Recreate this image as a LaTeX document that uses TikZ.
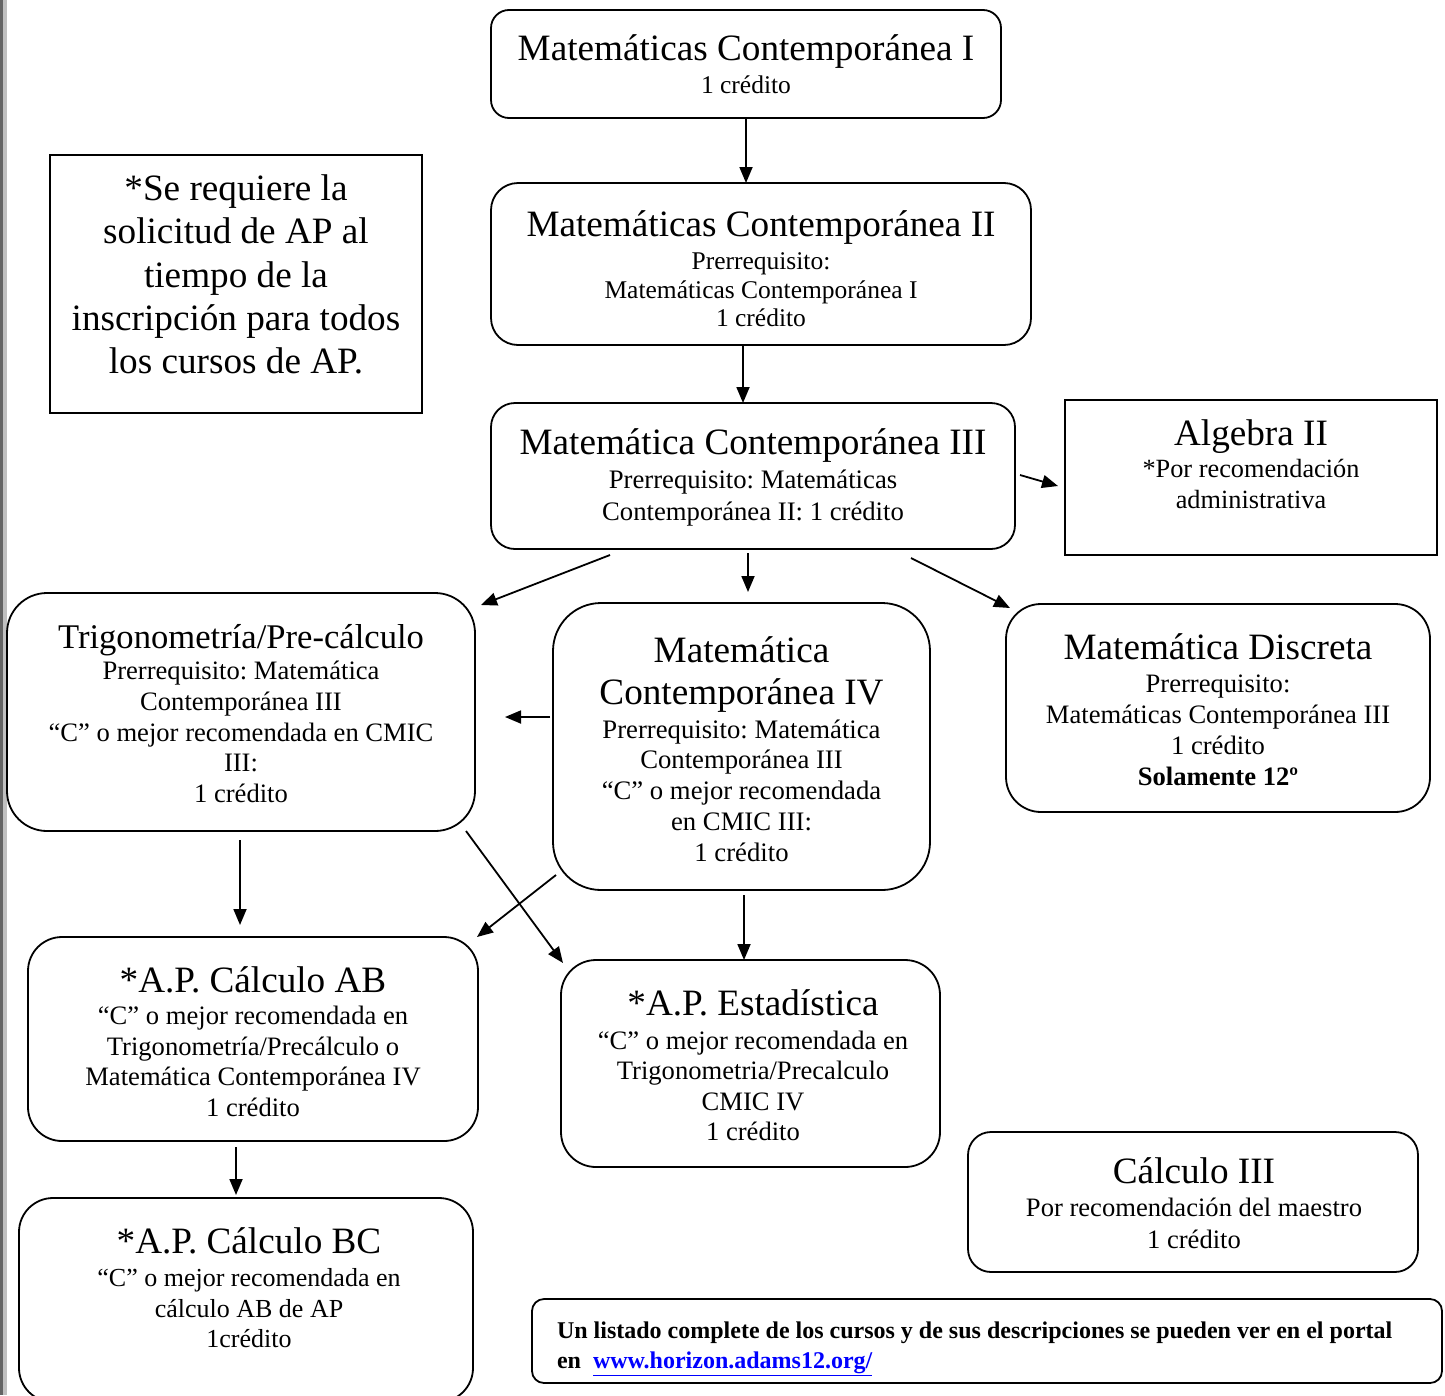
\documentclass[tikz,border=0pt]{standalone}
\usepackage{fontspec}
\setmainfont{Liberation Serif}
\usetikzlibrary{arrows.meta,calc}
\definecolor{bardark}{RGB}{100,100,100}
\definecolor{barlight}{RGB}{192,192,192}
\definecolor{linkblue}{RGB}{0,0,255}
\newcommand\Tsz{\fontsize{37.2}{42}\selectfont}
\frenchspacing
\begin{document}
\frenchspacing
\begin{tikzpicture}[x=1pt,y=-1pt,
 box/.style={draw=black, line width=1.8pt, inner sep=0pt, outer sep=0pt},
 txt/.style={inner sep=0pt, outer sep=0pt, align=center, anchor=north, yshift=-2pt},
 arr/.style={line width=1.8pt, -{Triangle[length=16pt,width=13pt]}}]
\useasboundingbox (0,0) rectangle (1445,1395);
\fill[white] (0,0) rectangle (1445,1395);
\fill[bardark] (0,0) rectangle (3,1395);
\fill[barlight] (3,0) rectangle (7,1395);

% boxes
\node[box, rounded corners=18pt, minimum width=510pt, minimum height=108pt] (mc1) at (746,64) {};
\node[txt, font=\fontsize{25.5}{28.5}\selectfont] (mc1t) at (746,28) {{\Tsz\rule{0pt}{30pt}Matemáticas Contemporánea I}\\[5pt] 1 crédito};

\node[box, rounded corners=27pt, minimum width=540pt, minimum height=162pt] (mc2) at (761,264) {};
\node[txt, font=\fontsize{25.5}{28.5}\selectfont] (mc2t) at (761,204) {{\Tsz\rule{0pt}{30pt}Matemáticas Contemporánea II}\\[5pt] Prerrequisito:\\ Matemáticas Contemporánea I\\ 1 crédito};

\node[box, minimum width=372pt, minimum height=258pt] (note) at (236,284) {};
\node[txt, font=\fontsize{37.2}{43.25}\selectfont] (notet) at (236,168.5) {\rule{0pt}{30pt}*Se requiere la\\ solicitud de AP al\\ tiempo de la\\ inscripción para todos\\ los cursos de AP.};

\node[box, rounded corners=24pt, minimum width=524pt, minimum height=146pt] (mc3) at (753,476) {};
\node[txt, font=\fontsize{26.7}{32}\selectfont] (mc3t) at (753,422) {{\Tsz\rule{0pt}{30pt}Matemática Contemporánea III}\\[2pt] Prerrequisito: Matemáticas\\ Contemporánea II: 1 crédito};

\node[box, minimum width=372pt, minimum height=155pt] (alg) at (1251,477.5) {};
\node[txt, font=\fontsize{26.3}{31}\selectfont] (algt) at (1251,413) {{\Tsz\rule{0pt}{30pt}Algebra II}\\[1.5pt] *Por recomendación\\ administrativa};

\node[box, rounded corners=40pt, minimum width=468pt, minimum height=238pt] (trig) at (241,712) {};
\node[txt, font=\fontsize{26.6}{30.75}\selectfont] (trigt) at (241,616) {{\fontsize{34.6}{40}\selectfont\rule{0pt}{30pt}Trigonometría/Pre-cálculo}\\[0.75pt] Prerrequisito: Matemática\\ Contemporánea III\\ “C” o mejor recomendada en CMIC\\ III:\\ 1 crédito};

\node[box, rounded corners=48pt, minimum width=377pt, minimum height=287pt] (mc4) at (741.5,746.5) {};
\node[txt, font=\fontsize{26.7}{30.75}\selectfont] (mc4t) at (741.5,630) {{\Tsz\rule{0pt}{30pt}Matemática}\\[11.25pt] {\Tsz Contemporánea IV}\\[3.25pt] Prerrequisito: Matemática\\ Contemporánea III\\ “C” o mejor recomendada\\ en CMIC III:\\ 1 crédito};

\node[box, rounded corners=35pt, minimum width=424pt, minimum height=208pt] (disc) at (1218,708) {};
\node[txt, font=\fontsize{26.6}{31}\selectfont] (disct) at (1218,627) {{\Tsz\rule{0pt}{30pt}Matemática Discreta}\\[2.5pt] Prerrequisito:\\ Matemáticas Contemporánea III\\ 1 crédito\\ \textbf{Solamente 12º}};

\node[box, rounded corners=34pt, minimum width=450pt, minimum height=204pt] (ab) at (253,1039) {};
\node[txt, font=\fontsize{26.6}{30.7}\selectfont] (abt) at (253,960) {{\Tsz\rule{0pt}{30pt}*A.P. Cálculo AB}\\[1.8pt] “C” o mejor recomendada en\\ Trigonometría/Precálculo o\\ Matemática Contemporánea IV\\ 1 crédito};

\node[box, rounded corners=35pt, minimum width=379pt, minimum height=207pt] (stat) at (750.5,1063.5) {};
\node[txt, font=\fontsize{26.6}{30.3}\selectfont] (statt) at (753,983) {{\Tsz\rule{0pt}{30pt}*A.P. Estadística}\\[4.2pt] “C” o mejor recomendada en\\ Trigonometria/Precalculo\\ CMIC IV\\ 1 crédito};

\node[box, rounded corners=23pt, minimum width=450pt, minimum height=140pt] (calc) at (1193,1202) {};
\node[txt, font=\fontsize{26.6}{31.5}\selectfont] (calct) at (1194,1151) {{\Tsz\rule{0pt}{30pt}Cálculo III}\\[2pt] Por recomendación del maestro\\ 1 crédito};

\node[box, rounded corners=34pt, minimum width=454pt, minimum height=204pt] (bc) at (246,1300) {};
\node[txt, font=\fontsize{26}{30.5}\selectfont] (bct) at (249,1221) {{\Tsz\rule{0pt}{30pt}*A.P. Cálculo BC}\\[3pt] “C” o mejor recomendada en\\ cálculo AB de AP\\ 1crédito};

\node[box, rounded corners=12pt, minimum width=910pt, minimum height=84pt] (link) at (987,1341) {};
\node[txt, anchor=north west, align=left, font=\bfseries\fontsize{24}{30}\selectfont] (linkt) at (557,1316) {\rule{0pt}{20pt}Un listado complete de los cursos y de sus descripciones se pueden ver en el portal\\ en\ \ {\color{linkblue}\underline{www.horizon.adams12.org/}}};

% connectors
\draw[arr] (mc1.south) -- (mc1.south |- mc2.north);
\draw[arr] ($(mc2.south)+(-18,0)$) -- ($(mc2.south |- mc3.north)+(-18,0)$);
\draw[arr] ($(mc3.east)+(5,-1)$) -- ($(alg.west)+(-7,8.5)$);
\draw[arr] ($(mc3.south)+(-143,6)$) -- ($(trig.north east)+(6,12)$);
\draw[arr] ($(mc3.south)+(-5,4)$) -- ($(mc4.north)+(6.5,-11)$);
\draw[arr] ($(mc3.south east)+(-104,9)$) -- ($(disc.north west)+(4,4)$);
\draw[arr] ($(mc4.west)+(-3,-29.5)$) -- ($(trig.east)+(30,5)$);
\draw[arr] ($(trig.south)+(-1,9)$) -- ($(ab.north)+(-13,-12)$);
\draw[arr] ($(trig.south east)+(-9,0)$) -- ($(stat.north west)+(2,3)$);
\draw[arr] ($(mc4.south west)+(3,-15)$) -- ($(ab.north east)+(-1,0)$);
\draw[arr] ($(mc4.south)+(2.5,5)$) -- ($(stat.north)+(-6.5,0)$);
\draw[arr] ($(ab.south)+(-17,6)$) -- ($(bc.north)+(-10,-3)$);
\end{tikzpicture}
\end{document}
